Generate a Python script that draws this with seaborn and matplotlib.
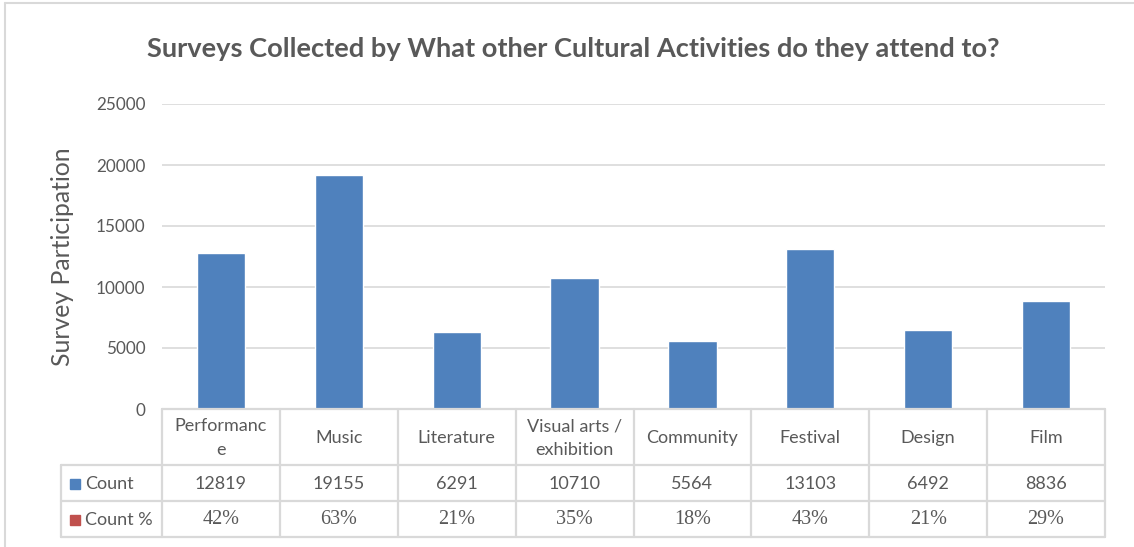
import matplotlib
matplotlib.use("Agg")
import matplotlib.pyplot as plt
import matplotlib.transforms as mtransforms
from matplotlib.patches import Rectangle
from matplotlib.lines import Line2D
import seaborn as sns
import pandas as pd

categories = ["Performance", "Music", "Literature", "Visual arts / exhibition",
              "Community", "Festival", "Design", "Film"]
header_labels = ["Performanc\ne", "Music", "Literature", "Visual arts /\nexhibition",
                 "Community", "Festival", "Design", "Film"]
counts = [12819, 19155, 6291, 10710, 5564, 13103, 6492, 8836]
count_pct = ["42%", "63%", "21%", "35%", "18%", "43%", "21%", "29%"]
y_ticks = [0, 5000, 10000, 15000, 20000, 25000]

sns.set_theme(style="white")
plt.rcParams["font.family"] = ["Lato", "DejaVu Sans"]

TEXT = "#595959"
GRID = "#d9d9d9"
BLUE = "#4F81BD"
RED = "#C0504D"

W, H = 1134, 547
fig = plt.figure(figsize=(W / 100, H / 100), dpi=100)
fig.patch.set_facecolor("white")

# plot area in pixel terms
left_px, right_px, top_px, bottom_px = 162, 1105, 104, 409
ax = fig.add_axes([left_px / W, 1 - bottom_px / H,
                   (right_px - left_px) / W, (bottom_px - top_px) / H])

df = pd.DataFrame({"category": categories, "count": counts})
sns.barplot(data=df, x="category", y="count", color=BLUE, saturation=1,
            width=0.41, ax=ax)
ax.set_xlim(-0.5, len(categories) - 0.5)
ax.set_ylim(0, 25000)
ax.set_yticks(y_ticks)
ax.set_yticklabels([str(t) for t in y_ticks], color=TEXT, fontsize=12.3)
ax.tick_params(axis="y", length=0, pad=12)
ax.set_xticks([])
ax.set_xlabel("")
ax.set_ylabel("")
ax.grid(axis="y", color=GRID, linewidth=1.2)
ax.set_axisbelow(True)
for s in ax.spines.values():
    s.set_visible(False)

# y label
fig.text(62 / W, 1 - 257 / H, "Survey Participation", rotation=90,
         ha="center", va="center", color=TEXT, fontsize=17.8)

# title
fig.text((147 + 1000) / 2 / W, 1 - 49 / H,
         "Surveys Collected by What other Cultural Activities do they attend to?",
         ha="center", va="center", color=TEXT, fontsize=19.6, fontweight="bold")

# data table below the axes
ph = bottom_px - top_px
def ay(px):
    return -(px - bottom_px) / ph

y_head, y_r1, y_r2, y_end = ay(409), ay(465), ay(501), ay(537)
x_left = (61 - left_px) / (right_px - left_px)
blend = mtransforms.blended_transform_factory(ax.transData, ax.transAxes)
lw = 1.6
n = len(categories)

def hline(y, x0, x1):
    ax.add_line(Line2D([x0, x1], [y, y], transform=ax.transAxes, color=GRID,
                       lw=lw, clip_on=False))

hline(y_head, 0, 1)
hline(y_r1, x_left, 1)
hline(y_r2, x_left, 1)
hline(y_end, x_left, 1)
for i in range(n + 1):
    xb = i - 0.5
    ax.add_line(Line2D([xb, xb], [y_head, y_end], transform=blend, color=GRID,
                       lw=lw, clip_on=False))
ax.add_line(Line2D([x_left, x_left], [y_r1, y_end], transform=ax.transAxes,
                   color=GRID, lw=lw, clip_on=False))

row1_mid = ay(484) 
row2_mid = ay(520)
for i in range(n):
    ax.text(i, ay(438), header_labels[i], transform=blend,
            ha="center", va="center", color=TEXT, fontsize=13,
            linespacing=1.6)
    ax.text(i, row1_mid, f"{counts[i]}", transform=blend,
            ha="center", va="center", color=TEXT, fontsize=13)
    ax.text(i, row2_mid, count_pct[i], transform=blend,
            ha="center", va="center", color=TEXT, fontsize=14.5,
            family="Liberation Serif")

# row headers with legend keys
key = 10 / (right_px - left_px)
key_h = 10 / ph
for ym, label, col in [(row1_mid, "Count", BLUE), (row2_mid, "Count %", RED)]:
    ax.add_patch(Rectangle(((70 - left_px) / (right_px - left_px), ym - key_h / 2),
                           key, key_h, transform=ax.transAxes, color=col,
                           clip_on=False))
    ax.text((85 - left_px) / (right_px - left_px), ym, label,
            transform=ax.transAxes, ha="left", va="center", color=TEXT,
            fontsize=13)

# chart area border
fig.add_artist(Line2D([5 / W, 5 / W], [0, 1 - 3 / H], transform=fig.transFigure,
                      color=GRID, lw=1.5))
fig.add_artist(Line2D([5 / W, 1], [1 - 3 / H, 1 - 3 / H], transform=fig.transFigure,
                      color=GRID, lw=1.5))

fig.savefig("out.png", dpi=100)
